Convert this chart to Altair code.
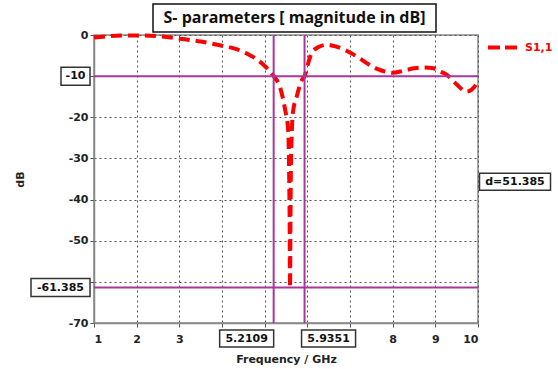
import altair as alt
import pandas as pd

# ---- data ----
freq = [1.0, 1.5, 2.0, 2.5, 3.0, 3.5, 4.0, 4.3, 4.6, 4.8, 5.0, 5.2109, 5.36, 5.48, 5.55, 5.57,
        5.585, 5.595, 5.605, 5.615, 5.63, 5.66, 5.75, 5.87, 5.9351, 6.0, 6.1, 6.25, 6.45, 6.7,
        6.93, 7.2, 7.4, 7.65, 7.87, 8.0, 8.25, 8.5, 8.75, 8.95, 9.1, 9.27, 9.45, 9.6, 9.72, 9.85, 10.0]
s11 = [-0.6, -0.2, -0.1, -0.3, -0.9, -1.6, -2.6, -3.3, -4.6, -5.8, -7.5, -10.0, -12.7, -18.2, -23.0, -31.0,
       -45.0, -61.385, -45.0, -32.0, -25.5, -19.0, -15.0, -11.0, -10.0, -7.6, -4.4, -3.0, -2.4, -2.9,
       -3.9, -5.5, -6.9, -8.3, -9.0, -9.2, -8.7, -8.1, -7.9, -8.1, -8.8, -9.7, -11.5, -13.0, -13.8, -13.3, -11.4]
series_name = "S1,1"
x_ticks = [1, 2, 3, 4, 5, 6, 7, 8, 9, 10]
y_ticks = [0, -10, -20, -30, -40, -50, -60, -70]
marker_freqs = [5.2109, 5.9351]
marker_freq_labels = ["5.2109", "5.9351"]
marker_levels = [-10, -61.385]
marker_level_labels = ["-10", "-61.385"]
delta_label = "d=51.385"
title_text = "S- parameters [ magnitude in dB]"

PURPLE = "#a8369c"
FONT = "DejaVu Sans"

W, H = 384, 288

x_scale = alt.Scale(domain=[1, 10], nice=False, zero=False)
y_scale = alt.Scale(domain=[-70, 0], nice=False, zero=False)

curve_df = pd.DataFrame({"f": freq, "dB": s11, "series": series_name})

axis_common = dict(
    grid=True, gridDash=[2, 3], gridColor="#555", gridWidth=1, gridOpacity=1,
    domainColor="#888", domainWidth=1.5, tickColor="#555", tickSize=4,
    labelFont=FONT, labelFontWeight="bold", labelFontSize=11, labelColor="#222",
    titleFont=FONT, titleFontWeight="bold", titleFontSize=11, titleColor="#222",
)

curve = alt.Chart(curve_df).mark_line(
    strokeWidth=4, strokeDash=[11, 6], interpolate="monotone", clip=False
).encode(
    x=alt.X("f:Q", scale=x_scale, axis=alt.Axis(
        values=x_ticks,
        labelExpr="datum.value >= 4 && datum.value <= 7 ? '' : datum.label",
        title="Frequency / GHz", titleX=W / 2, titleY=36, titleBaseline="middle",
        titleAlign="center", labelPadding=6, **axis_common,
    )),
    y=alt.Y("dB:Q", scale=y_scale, axis=alt.Axis(
        values=y_ticks,
        labelExpr="datum.value == -10 || datum.value == -60 ? '' : replace(datum.label, '\u2212', '-')",
        title="dB", titleX=-74, titleY=H / 2, titleAngle=270, titleBaseline="middle",
        titleAlign="center", labelPadding=2, **axis_common,
    )),
    color=alt.Color("series:N", scale=alt.Scale(range=["#ff0000"]), legend=alt.Legend(
        title=None, orient="none", legendX=392, legendY=-4, symbolType="stroke",
        symbolStrokeWidth=4, symbolDash=[12, 5], symbolSize=841, labelOffset=6,
        labelColor="#ff0000", labelFont=FONT, labelFontWeight="bold", labelFontSize=11,
        padding=0,
    )),
)

vrules = alt.Chart(pd.DataFrame({"f": marker_freqs})).mark_rule(
    color=PURPLE, strokeWidth=2).encode(x=alt.X("f:Q", scale=x_scale))
hrules = alt.Chart(pd.DataFrame({"dB": marker_levels})).mark_rule(
    color=PURPLE, strokeWidth=2).encode(y=alt.Y("dB:Q", scale=y_scale))


def box_path(w, h):
    r = h / w
    return f"M-1,-{r:.4f}H1V{r:.4f}H-1Z"


def box_kw(w, h):
    return dict(shape=box_path(w, h), size=w * w, filled=True,
                fill="white", stroke="#333", strokeWidth=1.5, opacity=1,
                fillOpacity=1, strokeOpacity=1, clip=False)


def text_kw(**kw):
    d = dict(font=FONT, fontWeight="bold", fontSize=11,
             color="#111", baseline="middle", align="center", clip=False)
    d.update(kw)
    return d


layers = [curve, vrules, hrules]

# y-side boxes (right edge just left of the axis)
y_box_widths = [29, 59]
for lvl, lab, bw in zip(marker_levels, marker_level_labels, y_box_widths):
    d = pd.DataFrame({"dB": [lvl], "lab": [lab]})
    cx = -4 - bw / 2
    layers.append(alt.Chart(d).mark_point(**box_kw(bw, 18)).encode(
        y=alt.Y("dB:Q", scale=y_scale), x=alt.value(cx)))
    layers.append(alt.Chart(d).mark_text(**text_kw()).encode(
        y=alt.Y("dB:Q", scale=y_scale), x=alt.value(cx), text="lab:N"))

# x-side boxes below the axis
x_box_offsets = [-27, 24]
for fr, lab, off in zip(marker_freqs, marker_freq_labels, x_box_offsets):
    d = pd.DataFrame({"f": [fr], "lab": [lab]})
    layers.append(alt.Chart(d).mark_point(**box_kw(54, 17)).encode(
        x=alt.X("f:Q", scale=x_scale), y=alt.value(H + 15.5), xOffset=alt.value(off)))
    layers.append(alt.Chart(d).mark_text(**text_kw(dx=off)).encode(
        x=alt.X("f:Q", scale=x_scale), y=alt.value(H + 15.5), text="lab:N"))

# difference box on the right
dd = pd.DataFrame({"f": [10], "dB": [sum(marker_levels) / 2], "lab": [delta_label]})
layers.append(alt.Chart(dd).mark_point(**box_kw(71, 17)).encode(
    x=alt.X("f:Q", scale=x_scale), y=alt.Y("dB:Q", scale=y_scale), xOffset=alt.value(37)))
layers.append(alt.Chart(dd).mark_text(**text_kw(dx=37)).encode(
    x=alt.X("f:Q", scale=x_scale), y=alt.Y("dB:Q", scale=y_scale), text="lab:N"))

# title in a box
tdf = pd.DataFrame({"t": [title_text]})
layers.append(alt.Chart(tdf).mark_rect(fill="white", stroke="#111", strokeWidth=1.5, clip=False).encode(
    x=alt.value(59), x2=alt.value(342), y=alt.value(-31), y2=alt.value(-3)))
layers.append(alt.Chart(tdf).mark_text(font="Open Sans", fontWeight="bold", fontSize=16,
                                       color="#111", baseline="middle", align="center",
                                       clip=False).encode(
    x=alt.value(200.5), y=alt.value(-17), text="t:N"))

chart = alt.layer(*layers).properties(
    width=W, height=H,
    background="white",
    autosize=alt.AutoSizeParams(type="none"),
    padding={"left": 94, "top": 35, "right": 80, "bottom": 46},
).configure_view(
    stroke="#888", strokeWidth=1.5
)

chart.save("out.html", embed_options={"renderer": "svg", "actions": False})
